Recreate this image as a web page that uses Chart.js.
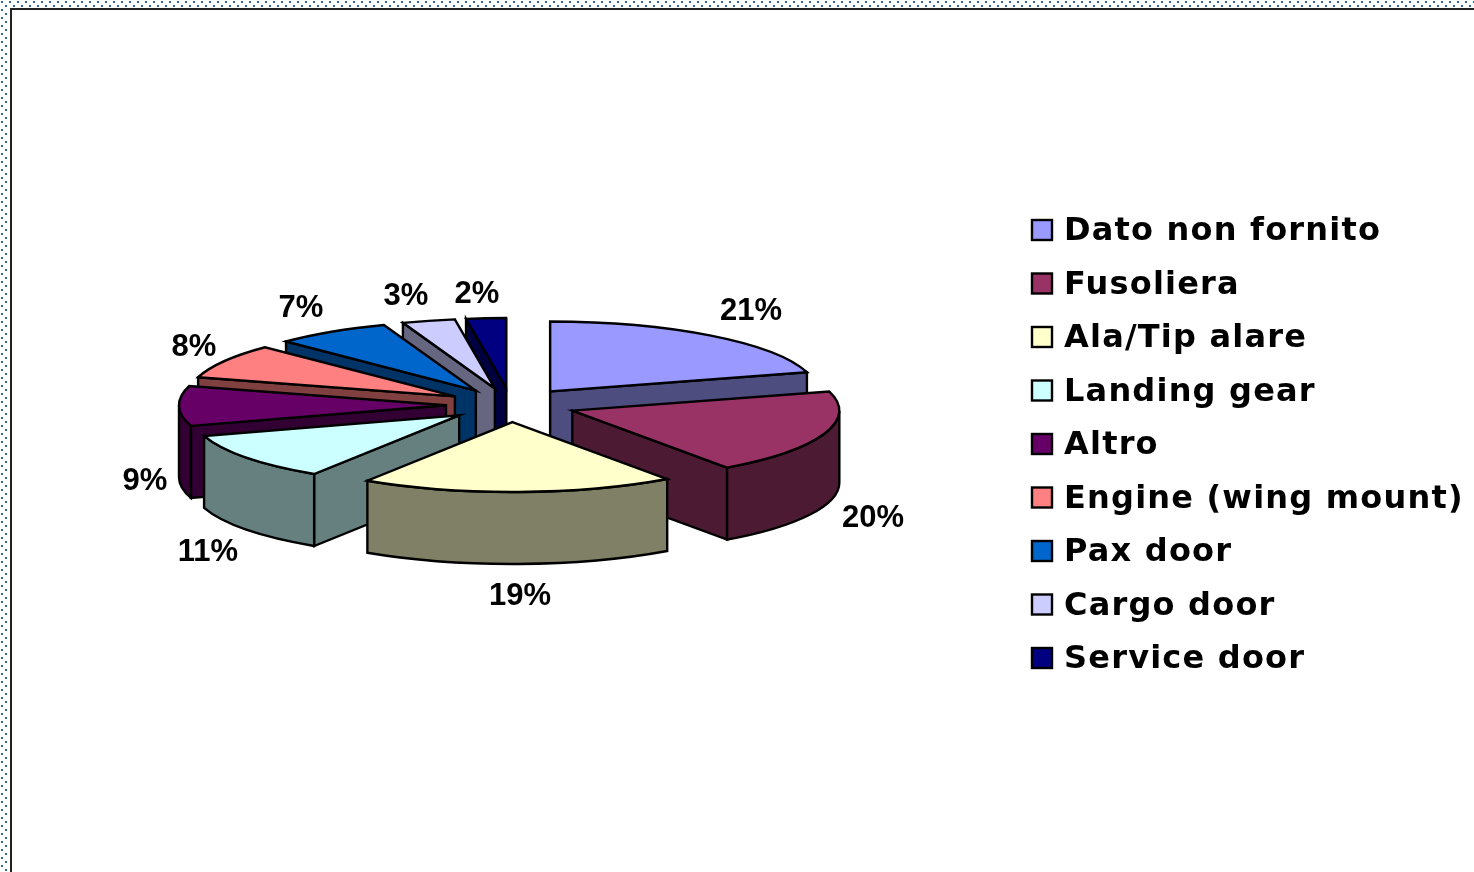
<!DOCTYPE html>
<html>
<head>
<meta charset="utf-8">
<title>Pie 3D</title>
<style>
  html, body { margin: 0; padding: 0; background: #fff; overflow: hidden; }
  #wrap { position: relative; width: 1474px; height: 872px; }
  #hatchTop, #hatchLeft { position: absolute; background-size: 8px 8px; background-image:
      url("data:image/svg+xml,%3Csvg xmlns='http://www.w3.org/2000/svg' width='8' height='8'%3E%3Crect x='1' y='1' width='2' height='2' fill='%232f6aa3'/%3E%3Crect x='5' y='5' width='2' height='2' fill='%232f6aa3'/%3E%3C/svg%3E"); }
  #hatchTop { left: 0; top: 0; width: 1474px; height: 8px; }
  #hatchLeft { left: 0; top: 0; width: 9px; height: 872px; }
  #inner { position: absolute; left: 10px; top: 8px; width: 1464px; height: 864px;
    border-left: 2px solid #222; border-top: 2px solid #222; box-sizing: border-box; }
  canvas { position: absolute; left: 0; top: 0; }
</style>
</head>
<body>
<div id="wrap">
  <div id="hatchTop"></div>
  <div id="hatchLeft"></div>
  <div id="inner"></div>
  <canvas id="chart" width="1474" height="872"></canvas>
</div>
<script src="https://cdn.jsdelivr.net/npm/chart.js@4"></script>
<script>
// values
const categories = ['Dato non fornito', 'Fusoliera', 'Ala/Tip alare', 'Landing gear', 'Altro', 'Engine (wing mount)', 'Pax door', 'Cargo door', 'Service door'];
const shares = [20.6, 19.6, 19.0, 11.1, 9.2, 8.0, 7.0, 3.2, 2.4];
const topColors = ['#9999FF', '#993366', '#FFFFCC', '#CCFFFF', '#660066', '#FF8080', '#0066CC', '#CCCCFF', '#000080'];
const sideColors = ['#4D4D80', '#4D1A33', '#808066', '#668080', '#330033', '#804040', '#003366', '#666680', '#000040'];

// label centres, same order as categories
const labelX = [751, 873, 520, 208, 145, 194, 301, 406, 477];
const labelY = [311, 518, 596, 552, 481, 347, 308, 296, 294];

const SQUASH = 0.262;
const DEPTH = 72;
const EXPLODE = 65;
const legendX = 1032;
const legendY = 230;
const legendStep = 53.5;

// draws the arcs as a tilted pie, back slices first
const pie3d = {
    id: 'pie3d',
    beforeDatasetsDraw(chart) {
        const ctx = chart.ctx;
        const arcs = chart.getDatasetMeta(0).data;
        const order = arcs.map((a, i) => i).sort((p, q) => {
            const mid = i => (arcs[i].startAngle + arcs[i].endAngle) / 2;
            return Math.sin(mid(p)) - Math.sin(mid(q));
        });

        ctx.save();
        ctx.lineWidth = 2.4;
        ctx.lineJoin = 'miter';
        ctx.strokeStyle = '#000';

        order.forEach(i => {
            const a = arcs[i];
            const s = a.startAngle, e = a.endAngle, r = a.outerRadius;
            const mid = (s + e) / 2;
            const ox = a.x + EXPLODE * Math.cos(mid);
            const oy = a.y + EXPLODE * SQUASH * Math.sin(mid);
            const ry = r * SQUASH;
            const px = t => ox + r * Math.cos(t);
            const py = t => oy + ry * Math.sin(t);

            // radial walls, only those turned to the viewer
            ctx.fillStyle = sideColors[i];
            const walls = [];
            if (Math.cos(s) < 0.001) walls.push(s);
            if (Math.cos(e) > -0.001) walls.push(e);
            walls.forEach(t => {
                ctx.beginPath();
                ctx.moveTo(ox, oy);
                ctx.lineTo(px(t), py(t));
                ctx.lineTo(px(t), py(t) + DEPTH);
                ctx.lineTo(ox, oy + DEPTH);
                ctx.closePath();
                ctx.fill();
                ctx.stroke();
            });

            // rim, only the part facing the viewer
            const from = Math.max(s, 0), to = Math.min(e, Math.PI);
            if (to > from) {
                ctx.beginPath();
                ctx.ellipse(ox, oy, r, ry, 0, from, to);
                ctx.ellipse(ox, oy + DEPTH, r, ry, 0, to, from, true);
                ctx.closePath();
                ctx.fill();
                ctx.stroke();
            }

            // top face
            ctx.fillStyle = topColors[i];
            ctx.beginPath();
            ctx.moveTo(ox, oy);
            ctx.ellipse(ox, oy, r, ry, 0, s, e);
            ctx.closePath();
            ctx.fill();
            ctx.stroke();
        });
        ctx.restore();
        return false;
    },
    afterDraw(chart) {
        const ctx = chart.ctx;
        ctx.save();
        ctx.textBaseline = 'middle';

        // percent labels
        ctx.fillStyle = '#000';
        ctx.textAlign = 'center';
        ctx.font = 'bold 31px "Liberation Sans"';
        shares.forEach((v, i) => ctx.fillText(Math.round(v) + '%', labelX[i], labelY[i]));

        // legend
        ctx.textAlign = 'left';
        ctx.font = 'bold 32px "DejaVu Sans"';
        ctx.letterSpacing = '1.2px';
        categories.forEach((name, i) => {
            const y = legendY + i * legendStep;
            ctx.fillStyle = topColors[i];
            ctx.fillRect(legendX, y - 10, 20, 20);
            ctx.strokeStyle = '#000';
            ctx.lineWidth = 2.4;
            ctx.strokeRect(legendX, y - 10, 20, 20);
            ctx.fillStyle = '#000';
            ctx.fillText(name, 1064, y + 2);
        });
        ctx.restore();
    }
};

new Chart(document.getElementById('chart'), {
    type: 'pie',
    data: {
        labels: categories,
        datasets: [{
            data: shares,
            backgroundColor: topColors,
            borderColor: '#000',
            offset: EXPLODE
        }]
    },
    options: {
        responsive: false,
        animation: false,
        radius: 267,
        layout: { padding: { right: 452, bottom: 62 } },
        plugins: { legend: { display: false }, tooltip: { enabled: false } }
    },
    plugins: [pie3d]
});
</script>
</body>
</html>
